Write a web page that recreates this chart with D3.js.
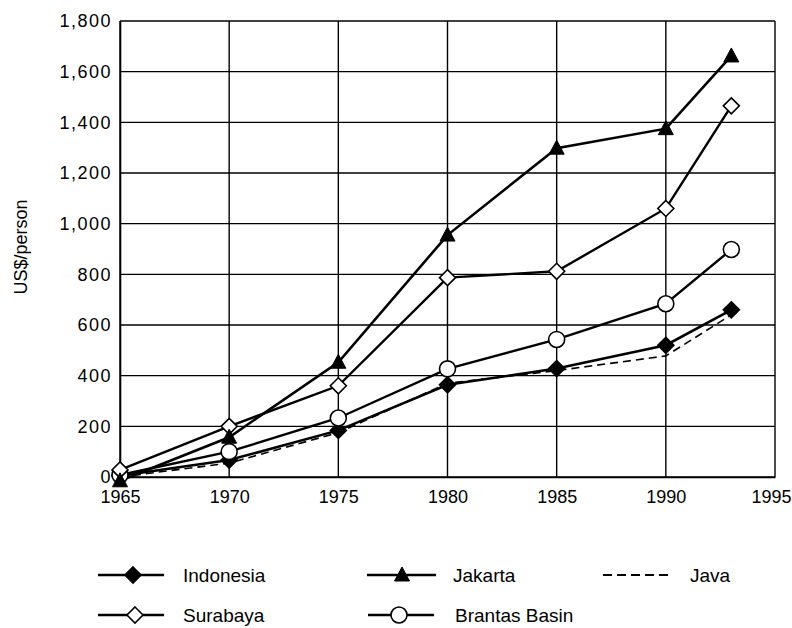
<!DOCTYPE html>
<html>
<head>
<meta charset="utf-8">
<script src="https://cdn.jsdelivr.net/npm/d3@7"></script>
<style>
  body { margin: 0; background: #fff; }
  text { font-family: "Liberation Sans", Arial, sans-serif; fill: #000; }
</style>
</head>
<body>
<div id="my_dataviz"></div>
<script>
// data
var years = [1965, 1970, 1975, 1980, 1985, 1990, 1993];
var indonesia = [5, 67, 184, 364, 428, 520, 660];
var java = [0, 55, 175, 370, 420, 478, 640];
var jakarta = [-15, 157, 453, 955, 1298, 1375, 1662];
var surabaya = [28, 200, 360, 787, 812, 1060, 1465];
var brantas = [8, 100, 233, 427, 543, 684, 898];

var xTicks = [1965, 1970, 1975, 1980, 1985, 1990, 1995];
var yTicks = [0, 200, 400, 600, 800, 1000, 1200, 1400, 1600, 1800];

// set the dimensions and margins of the graph
var margin = {top: 21, right: 17, bottom: 151, left: 120},
    width = 792 - margin.left - margin.right,
    height = 628 - margin.top - margin.bottom;

var root = d3.select("#my_dataviz")
  .append("svg")
    .attr("width", 792)
    .attr("height", 628);

var svg = root.append("g")
    .attr("transform", "translate(" + margin.left + "," + margin.top + ")");

var x = d3.scaleLinear()
  .domain([1965, 1995])
  .range([0, width]);

var y = d3.scaleLinear()
  .domain([0, 1800])
  .range([height, 0]);

// grid lines
svg.append("g")
  .selectAll("line.h")
  .data(yTicks)
  .enter()
  .append("line")
    .attr("x1", 0)
    .attr("x2", width)
    .attr("y1", function(d) { return y(d); })
    .attr("y2", function(d) { return y(d); })
    .attr("stroke", "#000")
    .attr("stroke-width", 1.4);

svg.append("g")
  .selectAll("line.v")
  .data(xTicks)
  .enter()
  .append("line")
    .attr("x1", function(d) { return x(d); })
    .attr("x2", function(d) { return x(d); })
    .attr("y1", 0)
    .attr("y2", height)
    .attr("stroke", "#000")
    .attr("stroke-width", 1.4);

// axes
var xAxis = svg.append("g")
  .attr("transform", "translate(0," + height + ")")
  .call(d3.axisBottom(x).tickValues(xTicks).tickFormat(d3.format("d")).tickSize(0).tickPadding(13));

var yAxis = svg.append("g")
  .call(d3.axisLeft(y).tickValues(yTicks).tickFormat(d3.format(",")).tickSize(0).tickPadding(8));

xAxis.selectAll("path").attr("stroke", "#000").attr("stroke-width", 1.6);
yAxis.selectAll("path").attr("stroke", "#000").attr("stroke-width", 1.6);
xAxis.attr("font-size", null).attr("font-family", null);
yAxis.attr("font-size", null).attr("font-family", null);
xAxis.selectAll("text")
  .style("font-size", "18px")
  .attr("dx", function(d) { return d == 1995 ? "-4" : "0"; });
yAxis.selectAll("text")
  .style("font-size", "18px")
  .style("letter-spacing", "1.5px");

root.append("text")
  .attr("transform", "translate(27,247) rotate(-90)")
  .attr("text-anchor", "middle")
  .style("font-size", "18px")
  .text("US$/person");

var series = [
  {name: "Java", values: java, marker: "none", dash: "8,5", sw: 1.6},
  {name: "Indonesia", values: indonesia, marker: "diamondFilled", dash: null, sw: 2.6},
  {name: "Brantas Basin", values: brantas, marker: "circle", dash: null, sw: 2.4},
  {name: "Surabaya", values: surabaya, marker: "diamondOpen", dash: null, sw: 2.4},
  {name: "Jakarta", values: jakarta, marker: "triangle", dash: null, sw: 2.6}
];

var line = d3.line()
  .x(function(d) { return x(d[0]); })
  .y(function(d) { return y(d[1]); });

// draw a marker centered on (cx, cy)
function drawMarker(g, type, cx, cy) {
  if (type == "diamondFilled" || type == "diamondOpen") {
    g.append("path")
      .attr("d", "M" + cx + "," + (cy - 8) + "L" + (cx + 8) + "," + cy + "L" + cx + "," + (cy + 8) + "L" + (cx - 8) + "," + cy + "Z")
      .attr("fill", type == "diamondFilled" ? "#000" : "#fff")
      .attr("stroke", "#000")
      .attr("stroke-width", 1.6);
  } else if (type == "circle") {
    g.append("circle")
      .attr("cx", cx)
      .attr("cy", cy)
      .attr("r", 8)
      .attr("fill", "#fff")
      .attr("stroke", "#000")
      .attr("stroke-width", 1.6);
  } else if (type == "triangle") {
    g.append("path")
      .attr("d", "M" + cx + "," + (cy - 8) + "L" + (cx + 7.5) + "," + (cy + 6) + "L" + (cx - 7.5) + "," + (cy + 6) + "Z")
      .attr("fill", "#000")
      .attr("stroke", "#000")
      .attr("stroke-width", 1);
  }
}

series.forEach(function(s) {
  var pts = years.map(function(yr, i) { return [yr, s.values[i]]; });
  svg.append("path")
    .datum(pts)
    .attr("fill", "none")
    .attr("stroke", "#000")
    .attr("stroke-width", s.sw)
    .attr("stroke-dasharray", s.dash)
    .attr("d", line);
});

series.forEach(function(s) {
  var g = svg.append("g");
  years.forEach(function(yr, i) {
    drawMarker(g, s.marker, x(yr), y(s.values[i]));
  });
});

// legend
var legendItems = [
  {name: "Indonesia", marker: "diamondFilled", dash: null, x0: 98, x1: 164, mx: 133, tx: 183, ty: 575},
  {name: "Jakarta", marker: "triangle", dash: null, x0: 367, x1: 436, mx: 402, tx: 453, ty: 575},
  {name: "Java", marker: "none", dash: "9,5", x0: 603, x1: 672, mx: 0, tx: 690, ty: 575},
  {name: "Surabaya", marker: "diamondOpen", dash: null, x0: 98, x1: 164, mx: 135, tx: 183, ty: 615},
  {name: "Brantas Basin", marker: "circle", dash: null, x0: 368, x1: 434, mx: 399, tx: 455, ty: 615}
];

var legend = root.append("g");
legendItems.forEach(function(d) {
  legend.append("line")
    .attr("x1", d.x0)
    .attr("x2", d.x1)
    .attr("y1", d.ty)
    .attr("y2", d.ty)
    .attr("stroke", "#000")
    .attr("stroke-width", d.dash ? 2 : 2.6)
    .attr("stroke-dasharray", d.dash);
  drawMarker(legend, d.marker, d.mx, d.ty);
  legend.append("text")
    .attr("x", d.tx)
    .attr("y", d.ty)
    .attr("dominant-baseline", "central")
    .style("font-size", "19px")
    .text(d.name);
});
</script>
</body>
</html>
